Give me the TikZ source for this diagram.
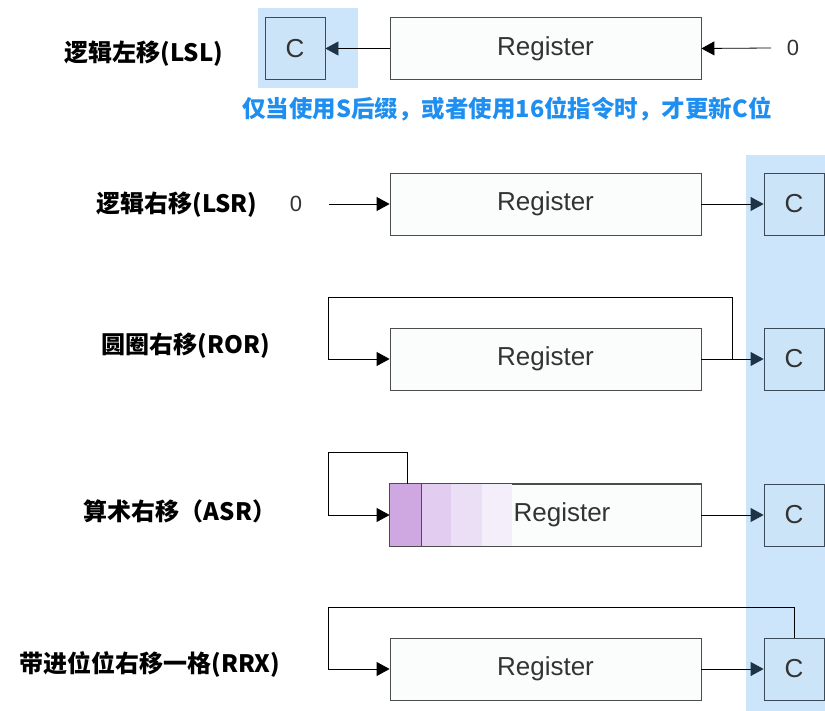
\documentclass[tikz,border=0pt]{standalone}
\usepackage{fontspec}
\setmainfont{Liberation Sans}
\newfontfamily\cjk{Noto Sans CJK SC}
\usetikzlibrary{arrows.meta}
\definecolor{regfill}{HTML}{FBFDFD}
\definecolor{cfill}{HTML}{CCE4F7}
\definecolor{hlfill}{HTML}{CCE5FA}
\definecolor{tipblue}{HTML}{1E8FF0}
\definecolor{cedge}{HTML}{3A4A58}
\definecolor{navy}{HTML}{1F3347}
\definecolor{bitA}{HTML}{CFA8E2}
\definecolor{bitB}{HTML}{E2CCF0}
\definecolor{bitC}{HTML}{EBDFF5}
\definecolor{bitD}{HTML}{F4EEFA}
\tikzset{
  reg/.style={draw=black!70,fill=regfill,minimum width=311pt,minimum height=62pt,
    inner sep=0pt,text=black!80,font=\fontsize{26}{30}\selectfont},
  cbox/.style={draw=cedge,fill=cfill,minimum width=60pt,minimum height=62pt,
    inner sep=0pt,text=black!80,font=\fontsize{26}{30}\selectfont},
  oplabel/.style={font=\cjk\bfseries\fontsize{24}{28}\selectfont},
  zero/.style={text=black!80,font=\fontsize{22}{26}\selectfont},
  tocarry/.style={-{Triangle[length=13pt,width=14pt,fill=navy,color=navy]}},
}
\begin{document}
\begin{tikzpicture}[x=1pt,y=-1pt,>={Triangle[length=13pt,width=14pt]},line width=0.8pt]
  \useasboundingbox (0,0) rectangle (825,711);
  % highlighted carry column
  \fill[hlfill] (258,8) rectangle (358,88);
  \fill[hlfill] (746,155) rectangle (825,711);

  % LSL
  \node[oplabel] (l1) at (144,54) {逻辑左移(LSL)};
  \node[reg] (r1) at (545.5,48.5) {Register};
  \node[cbox] (c1) at (295,48.5) {C};
  \node[zero] (z1) at (793,48) {0};
  \draw[tocarry] (r1.west) -- (c1.east);
  \draw[->] ([xshift=-12pt]z1.west) -- (r1.east);
  \node[text=tipblue,font=\cjk\bfseries\fontsize{23.5}{28}\selectfont] (note) at (507,109)
    {仅当使用S后缀，或者使用16位指令时，才更新C位};

  % LSR
  \node[oplabel] (l2) at (177,205) {逻辑右移(LSR)};
  \node[reg] (r2) at (545.5,204) {Register};
  \node[cbox] (c2) at (794,204) {C};
  \node[zero] (z2) at (296,204) {0};
  \draw[->] ([xshift=23pt]z2.east) -- (r2.west);
  \draw[tocarry] (r2.east) -- (c2.west);

  % ROR
  \node[oplabel] (l3) at (186,346) {圆圈右移(ROR)};
  \node[reg] (r3) at (545.5,359) {Register};
  \node[cbox] (c3) at (794,359) {C};
  \coordinate (k3) at (732,359);
  \draw[tocarry] (r3.east) -- (c3.west);
  \draw[->] (k3) |- (328,297) |- (r3.west);

  % ASR
  \node[oplabel] (l4) at (180,511) {算术右移（ASR）};
  \node[reg] (r4) at (545.5,515) {};
  \fill[bitA] (390,484) rectangle (421,546);
  \fill[bitB] (421,484) rectangle (451,546);
  \fill[bitC] (451,484) rectangle (482,546);
  \fill[bitD] (482,484) rectangle (512,546);
  \draw[black!70] (421,484) -- (421,546);
  \draw[black!70] (r4.north west) rectangle (r4.south east);
  \node[text=black!80,font=\fontsize{26}{30}\selectfont] at (562,515) {Register};
  \node[cbox] (c4) at (794,515) {C};
  \draw[tocarry] (r4.east) -- (c4.west);
  \draw[->] ([xshift=18pt]r4.north west) |- (328,452) |- (r4.west);

  % RRX
  \node[oplabel] (l5) at (150,664) {带进位位右移一格(RRX)};
  \node[reg] (r5) at (545.5,669) {Register};
  \node[cbox] (c5) at (794,669) {C};
  \draw[tocarry] (r5.east) -- (c5.west);
  \draw[->] (c5.north) |- (328,607) |- (r5.west);
\end{tikzpicture}
\end{document}
